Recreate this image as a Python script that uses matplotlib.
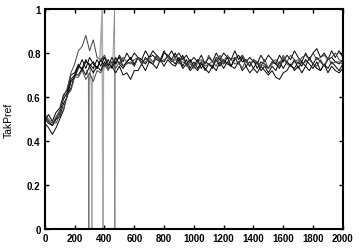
import numpy as np
import matplotlib
matplotlib.use("Agg")
import matplotlib.pyplot as plt

# time steps shared by the runs
steps = np.arange(0, 2001, 25)

# runs (0..1000, then 1025..2000)
run1 = [0.51,0.49,0.47,0.50,0.53,0.59,0.62,0.68,0.70,0.74,0.73,0.77,0.74,0.76,0.73,0.77,0.74,0.77,0.73,0.76,
        0.78,0.74,0.76,0.78,0.74,0.78,0.75,0.78,0.76,0.75,0.79,0.77,0.76,0.79,0.77,0.75,0.78,0.74,0.77,0.73,0.76,
        0.73,0.76,0.72,0.75,0.73,0.77,0.74,0.77,0.75,0.74,0.78,0.75,0.78,0.74,0.76,0.73,0.76,0.72,0.74,0.71,
        0.74,0.72,0.76,0.73,0.76,0.74,0.73,0.76,0.74,0.77,0.75,0.73,0.76,0.72,0.75,0.73,0.76,0.74,0.72,0.75]
run2 = [0.49,0.52,0.49,0.53,0.55,0.61,0.63,0.70,0.71,0.75,0.72,0.76,0.75,0.73,0.77,0.74,0.78,0.75,0.74,0.78,
        0.75,0.73,0.76,0.78,0.75,0.78,0.77,0.75,0.78,0.79,0.77,0.76,0.80,0.79,0.77,0.80,0.76,0.79,0.75,0.77,0.74,
        0.77,0.73,0.76,0.75,0.74,0.78,0.77,0.75,0.78,0.74,0.77,0.79,0.76,0.77,0.74,0.77,0.73,0.76,0.75,0.73,
        0.76,0.75,0.73,0.77,0.76,0.74,0.77,0.73,0.76,0.74,0.78,0.75,0.78,0.76,0.74,0.77,0.78,0.76,0.75,0.77]
run3 = [0.50,0.48,0.47,0.50,0.51,0.57,0.60,0.67,0.69,0.73,0.77,0.73,0.78,0.75,0.73,0.77,0.78,0.74,0.78,0.75,
        0.79,0.76,0.80,0.77,0.80,0.78,0.77,0.81,0.78,0.81,0.79,0.77,0.81,0.78,0.81,0.78,0.80,0.77,0.79,0.76,0.78,
        0.76,0.79,0.75,0.78,0.76,0.80,0.77,0.80,0.78,0.77,0.81,0.77,0.79,0.76,0.78,0.76,0.75,0.79,0.76,0.79,
        0.77,0.75,0.79,0.76,0.79,0.77,0.81,0.78,0.76,0.80,0.77,0.80,0.82,0.78,0.80,0.77,0.81,0.78,0.81,0.78]
run4 = [0.48,0.46,0.43,0.46,0.50,0.54,0.61,0.64,0.70,0.70,0.73,0.70,0.74,0.71,0.74,0.72,0.76,0.73,0.74,0.71,
        0.74,0.70,0.71,0.68,0.72,0.72,0.75,0.72,0.76,0.75,0.73,0.77,0.74,0.77,0.75,0.74,0.77,0.73,0.75,0.72,0.74,
        0.72,0.75,0.73,0.71,0.74,0.72,0.76,0.73,0.76,0.74,0.73,0.76,0.72,0.74,0.71,
        0.73,0.71,0.74,0.72,0.70,0.72,0.69,0.68,0.71,0.72,
        0.75,0.72,0.74,0.71,0.74,0.72,0.75,0.73,0.72,0.75,0.71,0.74,0.72,0.71,0.73]
run5 = [0.52,0.50,0.48,0.51,0.54,0.60,0.64,0.71,0.75,0.81,0.83,0.88,0.81,0.86,0.78,0.77,0.79,0.75,0.76,0.77,
        0.75,0.78,0.76,0.75,0.77,0.78,0.76,0.77,0.78,0.76,0.79,0.77,0.76,0.79,0.76,0.78,0.75,0.78,0.74,0.76,0.73,
        0.76,0.77,0.75,0.79,0.76,0.76,0.79,0.76,0.79,0.77,0.78,0.75,0.79,0.76,0.74,0.77,0.76,0.74,0.77,0.73,
        0.76,0.77,0.75,0.79,0.76,0.79,0.77,0.75,0.78,0.79,0.77,0.80,0.77,0.78,0.79,0.77,0.78,0.80,0.77,0.76]
run6 = [0.50,0.52,0.49,0.48,0.52,0.54,0.61,0.63,0.69,0.69,0.72,0.68,0.71,0.67,0.72,0.71,0.75,0.72,0.76,0.73,
        0.76,0.74,0.75,0.76,0.74,0.78,0.75,0.76,0.77,0.75,0.78,0.76,0.77,0.78,0.76,0.77,0.76,0.76,0.75,0.75,0.74,
        0.75,0.76,0.74,0.75,0.76,0.74,0.78,0.75,0.76,0.77,0.75,0.76,0.73,0.77,0.74,0.77,0.75,0.75,0.74,0.73,
        0.75,0.76,0.74,0.78,0.75,0.74,0.76,0.77,0.75,0.76,0.77,0.75,0.74,0.77,0.74,0.78,0.75,0.76,0.76,0.75]

# short unstable stretches that shoot to 0 / 1
spike1_x = [280, 292, 295, 298, 310]
spike1_y = [0.72, 0.70, 0.0, 0.68, 0.73]
spike2_x = [300, 312, 315, 318, 330]
spike2_y = [0.74, 0.65, 0.0, 0.66, 0.74]
spike3_x = [370, 385, 389, 393, 410]
spike3_y = [0.78, 1.0, 0.0, 0.72, 0.76]
spike4_x = [455, 468, 470, 472, 485]
spike4_y = [0.75, 1.0, 0.0, 0.74, 0.76]

plt.rcParams['font.family'] = ['Liberation Sans', 'DejaVu Sans']

fig = plt.figure(figsize=(3.59, 2.51), dpi=100)
ax = fig.add_axes([0.125, 0.084, 0.83, 0.876])

ax.plot(spike1_x, spike1_y, color='#777777', lw=0.7)
ax.plot(spike2_x, spike2_y, color='#aaaaaa', lw=0.9)
ax.plot(spike3_x, spike3_y, color='#aaaaaa', lw=1.1)
ax.plot(spike4_x, spike4_y, color='#888888', lw=0.6)

for r in [run1, run2, run3, run4]:
    ax.plot(steps, r, color='black', lw=0.7)
for r in [run5, run6]:
    ax.plot(steps, r, color='#444444', lw=0.7)

ax.set_xlim(0, 2000)
ax.set_ylim(0, 1)
ax.set_xticks(np.arange(0, 2001, 200))
ax.set_yticks([0, 0.2, 0.4, 0.6, 0.8, 1])
ax.set_yticklabels(['0', '0.2', '0.4', '0.6', '0.8', '1'])
ax.tick_params(direction='in', length=3, width=1, labelsize=7, pad=3,
               top=True, right=True)
for lab in ax.get_xticklabels() + ax.get_yticklabels():
    lab.set_fontweight('bold')
for s in ax.spines.values():
    s.set_linewidth(1.5)
ax.set_ylabel('TakPref', fontsize=7.5)
ax.yaxis.set_label_coords(-0.105, 0.5)

fig.savefig('out.png', dpi=100)
